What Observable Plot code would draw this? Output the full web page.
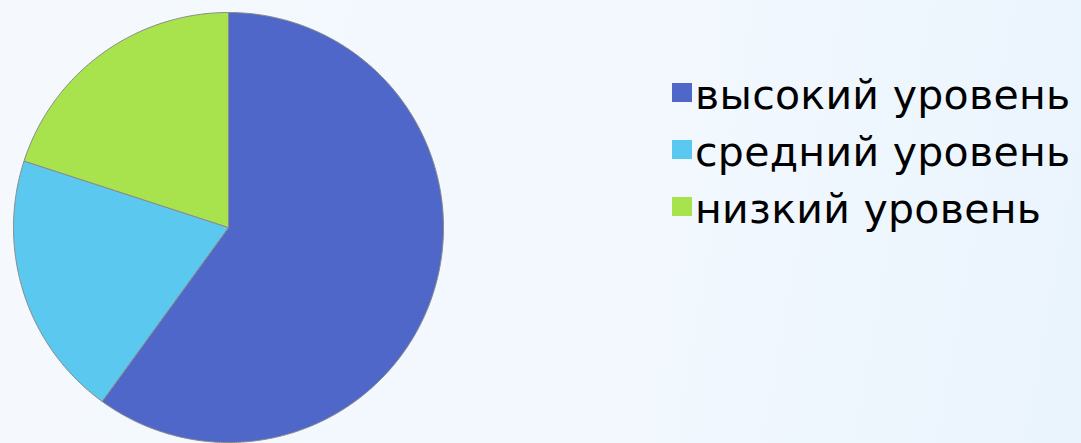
<!DOCTYPE html>
<html>
<head>
<meta charset="utf-8">
<script src="https://cdn.jsdelivr.net/npm/d3@7"></script>
<script src="https://cdn.jsdelivr.net/npm/@observablehq/plot@0.6"></script>
<style>
  html, body { margin: 0; padding: 0; }
  body { width: 1081px; height: 443px; overflow: hidden;
    background: linear-gradient(100deg, #f5f9fe 0%, #f2f8fe 60%, #eaf4fd 100%); }
  #wrap { position: relative; width: 1081px; height: 443px; }
  #legend { position: absolute; left: 672px; top: 67px; font-family: "DejaVu Sans", sans-serif;
    font-size: 41px; line-height: 57px; color: #000; letter-spacing: 0.3px; }
  .row { white-space: nowrap; height: 57px; }
  .sw { display: inline-block; width: 20px; height: 19px; margin-right: 3px; vertical-align: 7px; }
</style>
</head>
<body>
<div id="wrap"></div>
<script>
const categories = ["высокий уровень", "средний уровень", "низкий уровень"];
const values = [60, 20, 20];
const colors = ["#4f67c8", "#5bc9ef", "#a8e34e"];

const arcs = d3.pie().sort(null)(values);
const pts = [];
arcs.forEach((a, i) => {
  const n = Math.max(2, Math.ceil((a.endAngle - a.startAngle) / 0.01));
  pts.push({cat: categories[i], x: 0, y: 0});
  for (let k = 0; k <= n; k++) {
    const t = a.startAngle + (a.endAngle - a.startAngle) * k / n;
    pts.push({cat: categories[i], x: Math.sin(t), y: Math.cos(t)});
  }
  pts.push({cat: categories[i], x: 0, y: 0});
});

const cx = 228, cy = 227, r = 215;
const chart = Plot.plot({
  width: 1081, height: 443,
  margin: 0,
  style: {background: "transparent", overflow: "visible"},
  x: {domain: [-1, 1], range: [cx - r, cx + r], axis: null},
  y: {domain: [-1, 1], range: [cy + r, cy - r], axis: null},
  color: {domain: categories, range: colors},
  marks: [
    Plot.line(pts, {x: "x", y: "y", z: "cat", fill: "cat", stroke: "#8a8a8a", strokeWidth: 1, curve: "linear-closed"})
  ]
});
const wrap = document.getElementById("wrap");
wrap.appendChild(chart);

const legend = document.createElement("div");
legend.id = "legend";
categories.forEach((c, i) => {
  const row = document.createElement("div");
  row.className = "row";
  const sw = document.createElement("span");
  sw.className = "sw";
  sw.style.background = colors[i];
  const t = document.createElement("span");
  t.textContent = c;
  row.appendChild(sw); row.appendChild(t);
  legend.appendChild(row);
});
wrap.appendChild(legend);
</script>
</body>
</html>
